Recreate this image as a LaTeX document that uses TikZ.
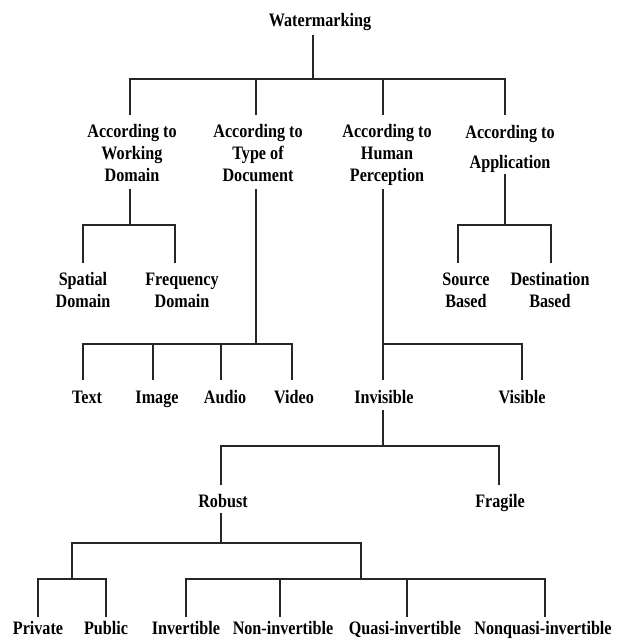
\documentclass[tikz,border=0pt]{standalone}
\usepackage{fontspec}
\newfontfamily\treefont{Liberation Serif}[FakeStretch=0.85]
\begin{document}
\begin{tikzpicture}[x=1pt,y=1pt,
  lbl/.style={font=\treefont\bfseries\fontsize{19}{22}\selectfont, inner sep=0pt, align=center, text=black},
  one/.style={lbl, anchor=base},
  conn/.style={draw=black!85, line width=1.2pt}]
\useasboundingbox (0,0) rectangle (622,-639);
% labels
\node[one] (wm) at (320,-27) {Watermarking};
\node[lbl] (w1) at (132,-153.5) {According to\\Working\\Domain};
\node[lbl] (w2) at (258,-153.5) {According to\\Type of\\Document};
\node[lbl] (w3) at (387,-155) {According to\\Human\\Perception};
\node[lbl] (w4) at (510,-149) {According to\\[8pt]Application};
\node[lbl] (sp) at (83,-290) {Spatial\\Domain};
\node[lbl] (fr) at (182,-290) {Frequency\\Domain};
\node[lbl] (src) at (466,-290) {Source\\Based};
\node[lbl] (dst) at (550,-290) {Destination\\Based};
\node[one] (txt) at (87,-403.5) {Text};
\node[one] (img) at (157,-403.5) {Image};
\node[one] (aud) at (225,-403.5) {Audio};
\node[one] (vid) at (294,-403.5) {Video};
\node[one] (inv) at (384,-403.5) {Invisible};
\node[one] (vis) at (522,-403.5) {Visible};
\node[one] (rob) at (223,-507.5) {Robust};
\node[one] (fra) at (500,-507.5) {Fragile};
\node[one] (pri) at (38,-634.5) {Private};
\node[one] (pub) at (106,-634.5) {Public};
\node[one] (ivt) at (186,-634.5) {Invertible};
\node[one] (niv) at (283,-634.5) {Non-invertible};
\node[one] (qiv) at (405,-634.5) {Quasi-invertible};
\node[one] (nqi) at (543,-634.5) {Nonquasi-invertible};
% connector end points
\coordinate (wm-b) at (313,-35);
\coordinate (w1-t) at (130,-115); \coordinate (w1-b) at (130,-189);
\coordinate (w2-t) at (256,-115); \coordinate (w2-b) at (256,-189);
\coordinate (w3-t) at (383,-115); \coordinate (w3-b) at (383,-189);
\coordinate (w4-t) at (505,-115); \coordinate (w4-b) at (505,-174);
\coordinate (sp-t) at (83,-263); \coordinate (fr-t) at (175,-263);
\coordinate (src-t) at (458,-263); \coordinate (dst-t) at (551,-263);
\coordinate (txt-t) at (83,-380); \coordinate (img-t) at (153,-380);
\coordinate (aud-t) at (221,-380); \coordinate (vid-t) at (292,-380);
\coordinate (inv-t) at (383,-380); \coordinate (vis-t) at (522,-380);
\coordinate (inv-b) at (383,-410);
\coordinate (rob-t) at (221,-485); \coordinate (fra-t) at (499,-485);
\coordinate (rob-b) at (221,-513);
\coordinate (g1) at (72,-579); \coordinate (g2) at (361,-579);
\coordinate (pri-t) at (38,-617); \coordinate (pub-t) at (106,-617);
\coordinate (ivt-t) at (186,-617); \coordinate (niv-t) at (280,-617);
\coordinate (qiv-t) at (407,-617); \coordinate (nqi-t) at (545,-617);
% connectors
\foreach \c in {w1-t,w2-t,w3-t,w4-t}
  \draw[conn] (wm-b) -- ++(0,-44) -| (\c);
\foreach \c in {sp-t,fr-t}
  \draw[conn] (w1-b) -- ++(0,-36) -| (\c);
\foreach \c in {txt-t,img-t,aud-t,vid-t}
  \draw[conn] (w2-b) -- ++(0,-155) -| (\c);
\foreach \c in {inv-t,vis-t}
  \draw[conn] (w3-b) -- ++(0,-155) -| (\c);
\foreach \c in {src-t,dst-t}
  \draw[conn] (w4-b) -- ++(0,-51) -| (\c);
\foreach \c in {rob-t,fra-t}
  \draw[conn] (inv-b) -- ++(0,-36) -| (\c);
\foreach \c in {g1,g2}
  \draw[conn] (rob-b) -- ++(0,-30) -| (\c);
\foreach \c in {pri-t,pub-t}
  \draw[conn] (g1) -| (\c);
\foreach \c in {ivt-t,niv-t,qiv-t,nqi-t}
  \draw[conn] (g2) -| (\c);
\end{tikzpicture}
\end{document}
